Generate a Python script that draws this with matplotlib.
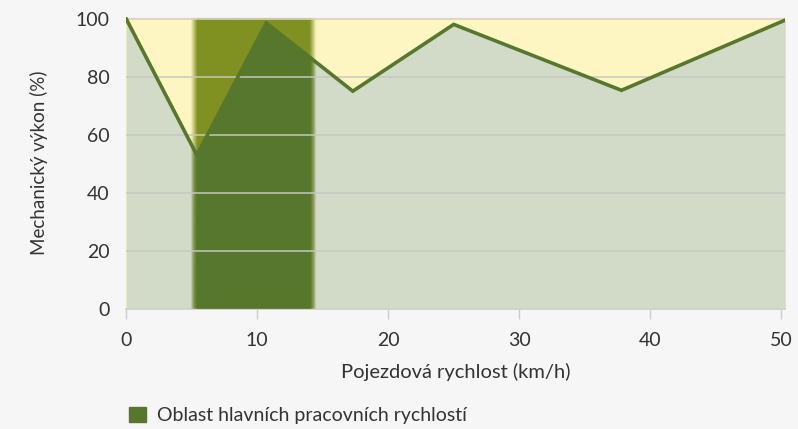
import numpy as np
import matplotlib.pyplot as plt
from matplotlib.patches import Patch

# speed (km/h) vs mechanical efficiency (%)
speed = [0, 5.4, 10.7, 17.3, 25.0, 37.8, 50.3]
power = [100, 53, 98.5, 75, 98, 75.3, 99.5]

# main working-speed range
band_lo, band_hi = 5.2, 14.3

line_col = '#57782c'
plt.rcParams['font.family'] = ['Lato', 'DejaVu Sans']

fig = plt.figure(figsize=(7.98, 4.29), dpi=100, facecolor='#f6f6f6')
ax = fig.add_axes([0.158, 0.28, 0.826, 0.68])
ax.set_facecolor('#fdf5c2')

ax.fill_between(speed, power, 0, color='#d1dbc7', lw=0, zorder=1)

# band with soft edges
xs = np.linspace(band_lo - 0.6, band_hi + 0.6, 300)
w = 0.5
a = np.clip((xs - (band_lo - w / 2)) / w, 0, 1) * np.clip(((band_hi + w / 2) - xs) / w, 0, 1)
ext = (xs[0], xs[-1], 0, 100)

olive = np.zeros((1, len(xs), 4))
olive[..., :3] = np.array([0x80, 0x91, 0x22]) / 255
olive[..., 3] = a
ax.imshow(olive, extent=ext, aspect='auto', zorder=2, interpolation='bilinear')

dark = np.zeros((1, len(xs), 4))
dark[..., :3] = np.array([0x57, 0x78, 0x2c]) / 255
dark[..., 3] = a
im = ax.imshow(dark, extent=ext, aspect='auto', zorder=3, interpolation='bilinear')
poly = ax.fill_between(speed, power, 0, color='none', lw=0)
im.set_clip_path(poly.get_paths()[0], transform=ax.transData)

for yv in [20, 40, 60, 80]:
    ax.axhline(yv, color='#c6c8c0', lw=1.2, alpha=0.9, zorder=4)
ax.axhline(100, color='#d2d2d2', lw=1.2, zorder=4)

ax.plot(speed, power, color=line_col, lw=2.6, zorder=5, solid_joinstyle='miter')

ax.set_xlim(0, 50.3)
ax.set_ylim(0, 100.5)
ax.set_xticks([0, 10, 20, 30, 40, 50])
ax.set_yticks([0, 20, 40, 60, 80, 100])
ax.tick_params(axis='x', length=7, width=1, color='#cccccc', labelsize=14, pad=10, labelcolor='#333333')
ax.tick_params(axis='y', length=0, labelsize=14, pad=12, labelcolor='#333333')
for s in ['top', 'right', 'left']:
    ax.spines[s].set_visible(False)
ax.spines['bottom'].set_color('#d0d0c8')
ax.spines['bottom'].set_linewidth(1.2)

ax.set_xlabel('Pojezdová rychlost (km/h)', fontsize=14.5, color='#333333', labelpad=10)
ax.set_ylabel('Mechanický výkon (%)', fontsize=13.5, color='#333333', labelpad=20)

fig.legend(handles=[Patch(color=line_col, label='Oblast hlavních pracovních rychlostí')],
           loc='lower left', bbox_to_anchor=(0.14, -0.03), frameon=False,
           fontsize=14, handlelength=0.85, handleheight=0.85, handletextpad=0.6,
           labelcolor='#333333')

fig.savefig('out.png', dpi=100, facecolor=fig.get_facecolor())
